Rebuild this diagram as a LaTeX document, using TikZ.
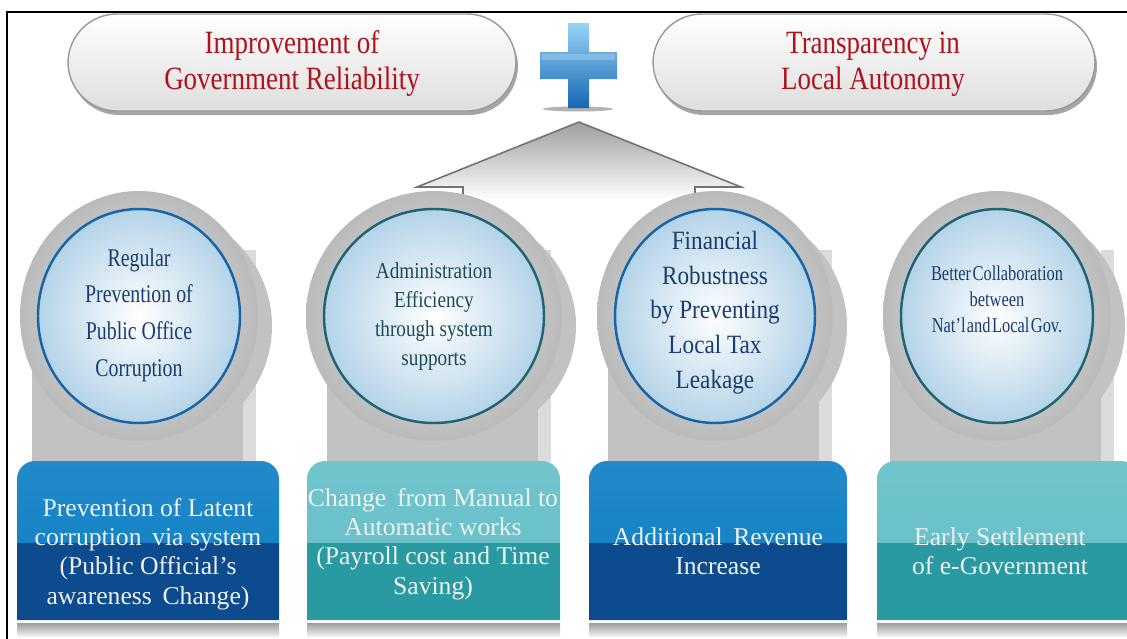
\documentclass[tikz,border=0pt]{standalone}
\usepackage{fontspec}
\usepackage{graphicx}
\setmainfont{Liberation Serif}
\newcommand{\sqz}[2]{\scalebox{#1}[1]{\begin{tabular}{@{}c@{}}#2\end{tabular}}}
\definecolor{pilltext}{HTML}{B0121B}
\definecolor{circblue}{HTML}{1A3C6E}
\definecolor{circteal}{HTML}{1E4A58}
\definecolor{blueTop}{HTML}{0A7DC3}
\definecolor{blueBot}{HTML}{0C4B8E}
\definecolor{tealTop}{HTML}{62BEC7}
\definecolor{tealBot}{HTML}{2A9AA2}
\definecolor{ringBlue}{HTML}{1565A8}
\definecolor{ringTeal}{HTML}{1F6475}
\definecolor{plusTop}{HTML}{9AD4F5}
\definecolor{plusBot}{HTML}{1566B5}
\definecolor{pedgray}{HTML}{C2C2C2}
\definecolor{circedge}{HTML}{B4D3E8}
\tikzset{
  pillshape/.style={shade, top color=white, bottom color=black!13, draw=black!40, line width=0.8pt},
  pillshadow/.style={fill=black!35},
  pilltxt/.style={text=pilltext, inner sep=0pt, font=\fontsize{18.5}{20.5}\selectfont},
  boxtxt/.style={text=white!94!black, align=center, font=\fontsize{14.6}{16.6}\selectfont},
  ctxt/.style={inner sep=0pt},
  ring/.style={line width=1.4pt},
  barshade/.style={shade, top color=black!38, bottom color=black!6},
}
\begin{document}
\begin{tikzpicture}[x=0.02cm,y=-0.02cm]
\useasboundingbox (0,0) rectangle (1127,639);
\clip (0,0) rectangle (1127,639);
\fill[white] (0,0) rectangle (1127,639);

% frame
\draw[black, line width=0.9pt] (7,639) -- (7,12) -- (1127,12);

% pills
\fill[pillshadow, rounded corners=0.98cm] (70,18) rectangle (518,115);
\path[pillshape, rounded corners=0.98cm] (68,14) rectangle (516,111);
\fill[pillshadow, rounded corners=0.98cm] (655,18) rectangle (1097,115);
\path[pillshape, rounded corners=0.98cm] (653,14) rectangle (1095,111);
\node[pilltxt] (p1) at (292,64) {\sqz{0.83}{Improvement of\\Government Reliability}};
\node[pilltxt] (p2) at (873,64) {\sqz{0.83}{Transparency in\\Local Autonomy}};

% plus sign
\fill[black!30] (578,109) ellipse (35 and 2.5);
\shade[top color=plusTop, bottom color=plusBot]
  (568,23) -- (589,23) -- (589,52) -- (617,52) -- (617,79) -- (589,79) -- (589,108)
  -- (568,108) -- (568,79) -- (540,79) -- (540,52) -- (568,52) -- cycle;
\fill[white, opacity=0.2] (542,54) rectangle (615,60);

% roof triangle
\shade[top color=black!38, bottom color=white]
  (579,122) -- (741,187) -- (695,187) -- (695,200) -- (463,200) -- (463,187) -- (417,187) -- cycle;
\draw[black!55, line width=0.9pt] (463,196) -- (463,187) -- (417,187) -- (579,122) -- (741,187) -- (695,187) -- (695,196);

% columns: pedestal, discs, inner circle
\foreach \cx/\rx/\rc in {139/101/ringBlue, 434/110/ringTeal, 715/100/ringBlue, 997/96/ringTeal}{
  \fill[pedgray] (\cx-107,320) rectangle (\cx+117,462);
  \fill[black!14] (\cx+104,250) rectangle (\cx+117,462);
  \fill[black!24] (\cx+13,326) ellipse ({\rx+19} and 118);
  \shade[inner color=black!8, outer color=black!27] (\cx,316) ellipse ({\rx+18} and 125);
  \shade[ring, draw=\rc, inner color=white, outer color=circedge] (\cx,316) ellipse ({\rx} and 107);
}

% circle texts
\node[ctxt, text=circblue, font=\fontsize{14.5}{21}\selectfont] (c1) at (139,314)
  {\sqz{0.78}{Regular\\Prevention of\\Public Office\\Corruption}};
\node[ctxt, text=circteal, font=\fontsize{13}{16.5}\selectfont] (c2) at (434,316)
  {\sqz{0.84}{Administration\\Efficiency\\through system\\supports}};
\node[ctxt, text=circblue, font=\fontsize{15}{19.8}\selectfont] (c3) at (715,312)
  {\sqz{0.88}{Financial\\Robustness\\by Preventing\\Local Tax\\Leakage}};
\node[ctxt, text=circblue, font=\fontsize{12}{14.8}\selectfont] (c4) at (997,301)
  {\sqz{0.78}{Better\hspace{1pt}Collaboration\\between\\Nat'l\hspace{1pt}and\hspace{1pt}Local\hspace{1pt}Gov.}};

% bottom boxes
\foreach \l/\r/\ct/\cb in {17/279/blueTop/blueBot, 307/560/tealTop/tealBot, 589/847/blueTop/blueBot, 877/1139/tealTop/tealBot}{
  \shade[top color=\ct!90!white, bottom color=\ct] (\l,620) [rounded corners=0.36cm] -- (\l,461) -- (\r,461) [sharp corners] -- (\r,620) -- cycle;
  \fill[\cb] (\l,543) rectangle (\r,620);
  \path[barshade] (\l,623) rectangle (\r,636);
}

\node[boxtxt] (b1) at (148,554) {Prevention of Latent\\corruption\, via system\\(Public Official's\\awareness\, Change)};
\node[boxtxt] (b2) at (433,544) {Change\, from Manual to\\Automatic works\\(Payroll cost and Time\\Saving)};
\node[boxtxt] (b3) at (718,551) {Additional\, Revenue\\Increase};
\node[boxtxt] (b4) at (1000,551) {Early Settlement\\of e-Government};
\end{tikzpicture}
\end{document}
